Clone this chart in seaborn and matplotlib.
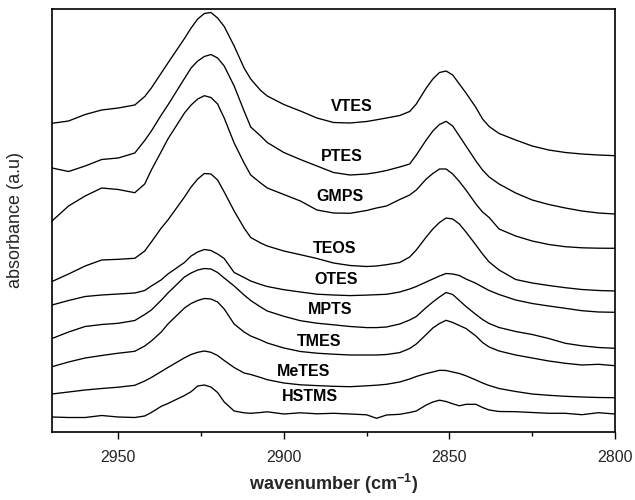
import matplotlib
matplotlib.use("Agg")
import matplotlib.pyplot as plt
import numpy as np
import pandas as pd
import seaborn as sns
from matplotlib.ticker import MultipleLocator

# C-H stretching region of the FTIR spectra, offset vertically per precursor
wavenumber = [2970, 2965, 2960, 2955, 2950, 2945, 2942, 2940, 2937, 2935,
              2930, 2928, 2926, 2924, 2922, 2920, 2918, 2915, 2912, 2910,
              2907, 2905, 2900, 2895, 2890, 2885, 2880, 2875, 2872, 2869,
              2865, 2862, 2860, 2857, 2855, 2853, 2851, 2849, 2847, 2845,
              2842, 2840, 2838, 2835, 2830, 2825, 2820, 2815, 2810, 2805,
              2800]

vtes = [3.087, 3.11, 3.175, 3.22, 3.24, 3.27, 3.355, 3.44, 3.59, 3.69,
        3.935, 4.04, 4.13, 4.185, 4.195, 4.14, 4.055, 3.86, 3.64, 3.53,
        3.415, 3.36, 3.275, 3.21, 3.14, 3.095, 3.09, 3.105, 3.122, 3.14,
        3.165, 3.205, 3.28, 3.44, 3.53, 3.595, 3.61, 3.57, 3.48, 3.39,
        3.245, 3.13, 3.055, 2.985, 2.92, 2.86, 2.82, 2.795, 2.78, 2.77,
        2.763]

ptes = [2.64, 2.605, 2.66, 2.725, 2.74, 2.79, 2.915, 3.01, 3.17, 3.27,
        3.535, 3.64, 3.71, 3.755, 3.775, 3.74, 3.66, 3.46, 3.21, 3.05,
        2.96, 2.895, 2.795, 2.725, 2.66, 2.595, 2.57, 2.58, 2.595, 2.615,
        2.65, 2.68, 2.77, 2.92, 3.01, 3.075, 3.107, 3.06, 2.96, 2.86,
        2.71, 2.62, 2.55, 2.48, 2.39, 2.32, 2.275, 2.24, 2.21, 2.19,
        2.18]

gmps = [2.11, 2.26, 2.36, 2.44, 2.425, 2.393, 2.48, 2.62, 2.805, 2.93,
        3.19, 3.27, 3.33, 3.363, 3.345, 3.28, 3.14, 2.89, 2.69, 2.57,
        2.49, 2.44, 2.375, 2.31, 2.22, 2.19, 2.187, 2.215, 2.24, 2.26,
        2.325, 2.37, 2.42, 2.53, 2.585, 2.63, 2.63, 2.58, 2.505, 2.42,
        2.28, 2.2, 2.145, 2.03, 1.96, 1.91, 1.875, 1.853, 1.842, 1.838,
        1.837]

teos = [1.505, 1.58, 1.66, 1.72, 1.727, 1.737, 1.81, 1.9, 2.04, 2.12,
        2.35, 2.45, 2.53, 2.585, 2.58, 2.52, 2.4, 2.21, 2.04, 1.945,
        1.89, 1.86, 1.81, 1.773, 1.735, 1.69, 1.665, 1.655, 1.66, 1.673,
        1.695, 1.75, 1.82, 1.95, 2.03, 2.095, 2.14, 2.13, 2.08, 2.0,
        1.87, 1.78, 1.70, 1.62, 1.525, 1.49, 1.465, 1.443, 1.425, 1.415,
        1.41]

otes = [1.27, 1.315, 1.355, 1.37, 1.38, 1.39, 1.415, 1.46, 1.522, 1.58,
        1.695, 1.76, 1.8, 1.825, 1.815, 1.78, 1.735, 1.595, 1.545, 1.51,
        1.475, 1.455, 1.423, 1.4, 1.378, 1.37, 1.364, 1.369, 1.373, 1.377,
        1.4, 1.43, 1.455, 1.5, 1.53, 1.56, 1.585, 1.58, 1.565, 1.53,
        1.487, 1.45, 1.415, 1.375, 1.32, 1.285, 1.26, 1.237, 1.213, 1.2,
        1.197]

mpts = [0.935, 1.0, 1.055, 1.075, 1.087, 1.115, 1.175, 1.22, 1.318, 1.39,
        1.55, 1.59, 1.62, 1.635, 1.63, 1.595, 1.54, 1.46, 1.37, 1.315,
        1.25, 1.21, 1.157, 1.113, 1.088, 1.072, 1.055, 1.044, 1.044, 1.05,
        1.08, 1.12, 1.155, 1.245, 1.3, 1.35, 1.395, 1.375, 1.315, 1.255,
        1.175, 1.125, 1.085, 1.045, 1.005, 0.975, 0.935, 0.887, 0.862, 0.845,
        0.837]

tmes = [0.653, 0.7, 0.74, 0.765, 0.788, 0.807, 0.86, 0.91, 1.0, 1.08,
        1.24, 1.285, 1.315, 1.335, 1.33, 1.3, 1.23, 1.08, 1.0, 0.96,
        0.92, 0.89, 0.84, 0.805, 0.788, 0.778, 0.77, 0.77, 0.77, 0.775,
        0.794, 0.835, 0.88, 0.975, 1.04, 1.085, 1.117, 1.095, 1.065, 1.035,
        0.96, 0.895, 0.85, 0.81, 0.77, 0.74, 0.71, 0.687, 0.67, 0.677,
        0.663]

metes = [0.38, 0.4, 0.42, 0.435, 0.448, 0.467, 0.51, 0.545, 0.605, 0.645,
         0.742, 0.775, 0.797, 0.81, 0.797, 0.765, 0.715, 0.645, 0.59, 0.575,
         0.545, 0.523, 0.49, 0.472, 0.464, 0.457, 0.453, 0.462, 0.468, 0.477,
         0.5, 0.53, 0.555, 0.585, 0.6, 0.617, 0.615, 0.6, 0.585, 0.562,
         0.52, 0.49, 0.465, 0.435, 0.405, 0.38, 0.367, 0.357, 0.35, 0.345,
         0.343]

hstms = [0.15, 0.145, 0.145, 0.165, 0.15, 0.145, 0.16, 0.195, 0.257, 0.285,
         0.365, 0.403, 0.46, 0.47, 0.45, 0.395, 0.3, 0.21, 0.192, 0.187,
         0.195, 0.202, 0.18, 0.192, 0.182, 0.187, 0.18, 0.172, 0.137, 0.17,
         0.177, 0.195, 0.21, 0.27, 0.3, 0.318, 0.305, 0.282, 0.262, 0.277,
         0.277, 0.245, 0.22, 0.205, 0.203, 0.195, 0.187, 0.187, 0.173, 0.193,
         0.18]

samples = ["VTES", "PTES", "GMPS", "TEOS", "OTES", "MPTS", "TMES", "MeTES", "HSTMS"]
spectra = [vtes, ptes, gmps, teos, otes, mpts, tmes, metes, hstms]

# where each sample name is written (wavenumber, absorbance)
label_x = [2879.5, 2882.5, 2883.0, 2884.7, 2884.2, 2886.0, 2889.3, 2894.1, 2892.1]
label_y = [3.26, 2.753, 2.353, 1.837, 1.53, 1.22, 0.903, 0.603, 0.353]

frames = []
for name, values in zip(samples, spectra):
    assert len(values) == len(wavenumber)
    frames.append(pd.DataFrame({"wavenumber": wavenumber,
                                "absorbance": values,
                                "sample": name}))
df = pd.concat(frames, ignore_index=True)

sns.set_style("ticks")
plt.rcParams["font.family"] = ["Liberation Sans", "DejaVu Sans"]

fig = plt.figure(figsize=(6.35, 5.0), dpi=100)
ax = fig.add_axes([52 / 635, 1 - 432 / 500, (615 - 52) / 635, (432 - 9) / 500])

sns.lineplot(data=df, x="wavenumber", y="absorbance", hue="sample",
             palette={s: "black" for s in samples}, legend=False,
             sort=True, estimator=None, linewidth=0.95, ax=ax,
             solid_joinstyle="round", solid_capstyle="round")

for name, lx, ly in zip(samples, label_x, label_y):
    ax.text(lx, ly, name, ha="center", va="center", fontsize=11.5,
            fontweight="bold", color="black")

ax.set_xlim(2970, 2800)
ax.set_ylim(0, 4.23)
ax.xaxis.set_major_locator(MultipleLocator(50))
ax.xaxis.set_minor_locator(MultipleLocator(25))
ax.set_yticks([])
ax.tick_params(axis="x", which="major", direction="out", length=5,
               width=1.0, labelsize=11.5, pad=8, color="black")
ax.tick_params(axis="x", which="minor", direction="out", length=3,
               width=1.0, color="black")
for side in ["left", "right", "top", "bottom"]:
    ax.spines[side].set_visible(True)
    ax.spines[side].set_linewidth(1.2)
    ax.spines[side].set_color("black")

ax.set_xlabel("wavenumber (cm$^{\\mathregular{-1}}$)", fontsize=13,
              fontweight="bold", labelpad=5)
ax.set_ylabel("absorbance (a.u)", fontsize=13, labelpad=20)

fig.savefig("out.png", dpi=100, facecolor="white")
